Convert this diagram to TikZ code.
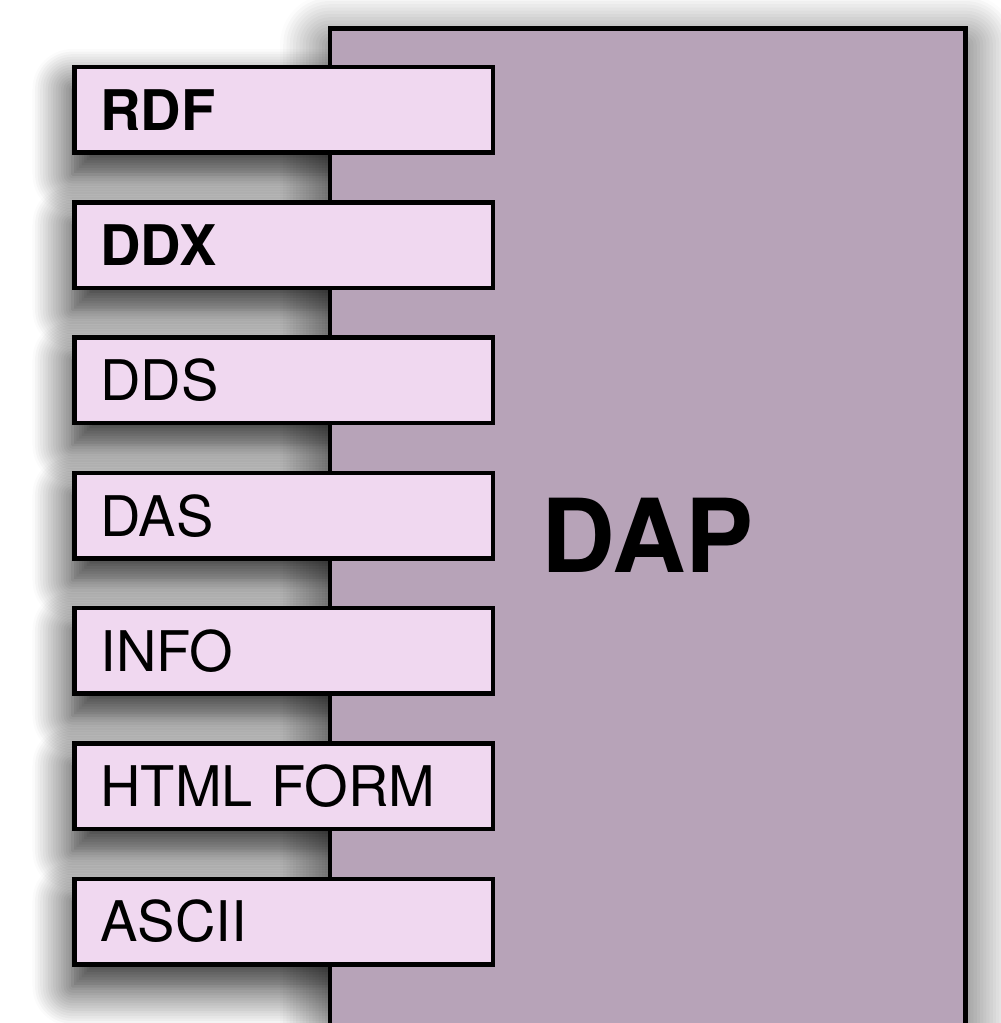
\documentclass[tikz,border=0pt]{standalone}
\usepackage{fontspec}
\setmainfont{TeX Gyre Heros}
\usetikzlibrary{shadows.blur}
\definecolor{dapfill}{RGB}{183,163,184}
\definecolor{fmtfill}{RGB}{240,216,240}
\tikzset{
  fmtbox/.style={draw=black, line width=4.5pt, fill=fmtfill, rectangle,
    outer sep=0pt, anchor=north west, minimum height=85.5pt,
    text width=366.5pt, inner xsep=26pt, inner ysep=0pt, align=left,
    font=\fontsize{56}{60}\selectfont},
  fmtshadow/.style={blur shadow={shadow xshift=-2pt, shadow yshift=-22pt,
    shadow blur radius=40pt, shadow blur steps=16, shadow opacity=90}},
  dapbox/.style={draw=black, line width=4.5pt, fill=dapfill, rectangle,
    outer sep=0pt, anchor=north west, minimum width=635.5pt,
    minimum height=1014pt, font=\fontsize{102}{110}\selectfont\bfseries,
    blur shadow={shadow xshift=0pt, shadow yshift=-16pt,
    shadow blur radius=50pt, shadow blur steps=16, shadow opacity=75}}
}
\begin{document}
\begin{tikzpicture}[x=1pt, y=-1pt]
  \useasboundingbox (0,0) rectangle (1001,1023);
  % shadows of the format boxes, kept under the DAP block
  \foreach \i in {0,...,6}
    \path[fmtshadow] (74.5,{67+\i*135.3}) rectangle ++(418.5,85.5);
  \node[dapbox] (dap) at (330,28.5) {DAP};
  \foreach \lbl/\nm [count=\i from 0] in {\textbf{RDF}/rdf, \textbf{DDX}/ddx,
      DDS/dds, DAS/das, INFO/info, HTML FORM/html, ASCII/ascii}
    \node[fmtbox] (\nm) at (74.5,{67+\i*135.3}) {\lbl};
\end{tikzpicture}
\end{document}
